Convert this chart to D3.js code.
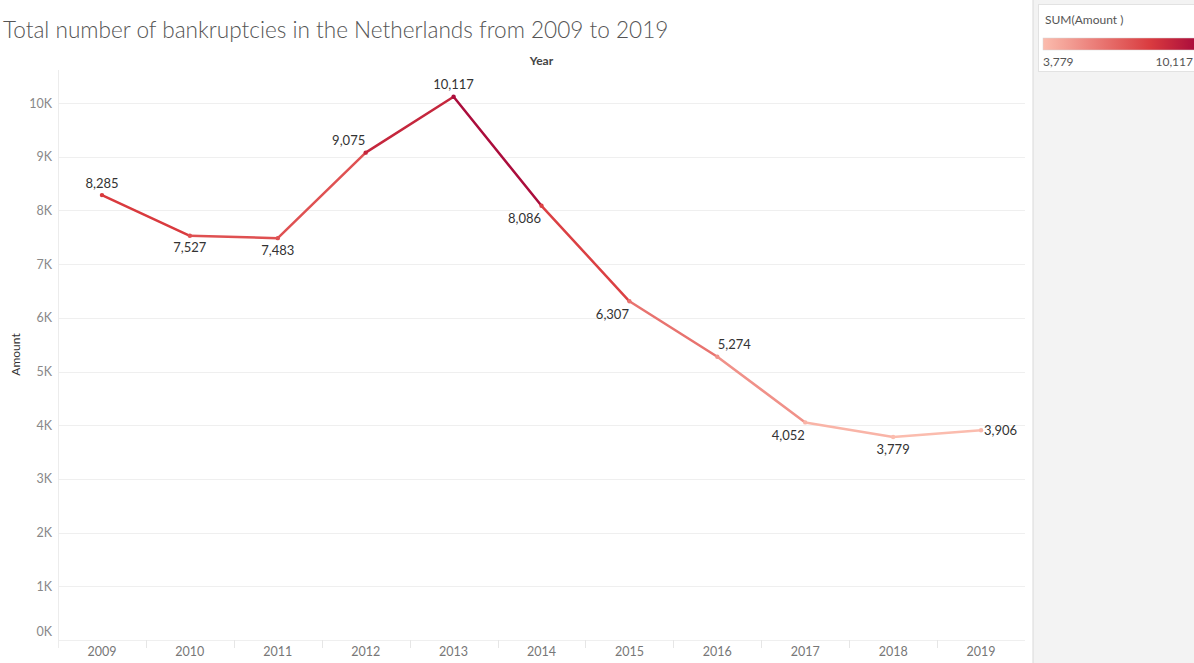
<!DOCTYPE html>
<html>
<head>
<meta charset="utf-8">
<script src="https://cdn.jsdelivr.net/npm/d3@7"></script>
<style>
  html, body { margin: 0; padding: 0; background: #fff; }
  svg { display: block; }
</style>
</head>
<body>
<svg id="chart" width="1194" height="663"></svg>
<script>
// Yearly bankruptcy counts
const years = ["2009","2010","2011","2012","2013","2014","2015","2016","2017","2018","2019"];
const amounts = [8285, 7527, 7483, 9075, 10117, 8086, 6307, 5274, 4052, 3779, 3906];
const yTicks = [0, 1000, 2000, 3000, 4000, 5000, 6000, 7000, 8000, 9000, 10000];
// where each value label sits relative to its point
const labelSide = ["above","below","below","aboveLeft","above","belowLeft","belowLeft","aboveRight","belowLeft","below","right"];

const svg = d3.select("#chart");
const W = 1194, H = 663;
const plot = { left: 58, right: 1025, top: 70, bottom: 640 };
const font = "Lato, 'Open Sans', sans-serif";

const x = d3.scaleBand().domain(years).range([plot.left, plot.right]);
const y = d3.scaleLinear().domain([0, 10000]).range([plot.bottom, plot.bottom - 537]);
const lo = d3.min(amounts), hi = d3.max(amounts);
const color = d3.scaleLinear()
  .domain([lo, 8300, hi])
  .range(["#fbbcae", "#d93a3e", "#ab0d3c"]);

// side panel holding the legend
svg.append("rect").attr("x", 1033).attr("y", 0).attr("width", W - 1033).attr("height", H).attr("fill", "#f3f3f3");
svg.append("line").attr("x1", 1033).attr("x2", 1033).attr("y1", 0).attr("y2", H).attr("stroke", "#d9d9d9");

// title
svg.append("text").attr("x", 3).attr("y", 38)
  .attr("font-family", font).attr("font-weight", 300).attr("font-size", 22.6).attr("fill", "#555")
  .text("Total number of bankruptcies in the Netherlands from 2009 to 2019");

// column header
svg.append("text").attr("x", x("2014") + x.bandwidth() / 2).attr("y", 65)
  .attr("text-anchor", "middle").attr("font-family", font).attr("font-weight", 700)
  .attr("font-size", 12).attr("fill", "#444").text("Year");

// gridlines
svg.append("g").selectAll("line").data(yTicks).join("line")
  .attr("x1", plot.left).attr("x2", plot.right)
  .attr("y1", d => Math.round(y(d)) + 0.5).attr("y2", d => Math.round(y(d)) + 0.5)
  .attr("stroke", "#efefef");

// vertical axis rule
svg.append("line").attr("x1", plot.left + 0.5).attr("x2", plot.left + 0.5)
  .attr("y1", plot.top).attr("y2", plot.bottom + 8).attr("stroke", "#ececec");

// y axis
const yAxis = d3.axisLeft(y).tickValues(yTicks).tickSize(0).tickPadding(6)
  .tickFormat(d => (d / 1000) + "K");
const gy = svg.append("g").attr("transform", `translate(${plot.left},0)`).call(yAxis);
gy.select(".domain").remove();
gy.selectAll("text").attr("font-family", font).attr("font-size", 12.5).attr("fill", "#888");
gy.selectAll(".tick").filter(d => d === 0).select("text").attr("dy", "-0.35em");

svg.append("text")
  .attr("transform", `translate(20,${y(5000) - 17}) rotate(-90)`)
  .attr("text-anchor", "middle").attr("font-family", font).attr("font-size", 12).attr("fill", "#333")
  .text("Amount");

// x axis
const xAxis = d3.axisBottom(x).tickSize(0).tickPadding(7);
const gx = svg.append("g").attr("transform", `translate(0,${plot.bottom})`).call(xAxis);
gx.select(".domain").remove();
gx.selectAll("text").attr("font-family", font).attr("font-size", 12.5).attr("fill", "#777");
svg.append("g").selectAll("line").data(years.slice(1)).join("line")
  .attr("x1", d => Math.round(x(d)) + 0.5).attr("x2", d => Math.round(x(d)) + 0.5)
  .attr("y1", plot.bottom).attr("y2", plot.bottom + 8).attr("stroke", "#e6e6e6");

// line segments, each coloured by its starting value
const pts = years.map((yr, i) => ({ yr, v: amounts[i], cx: x(yr) + x.bandwidth() / 2, cy: y(amounts[i]), side: labelSide[i] }));
svg.append("g").selectAll("line").data(pts.slice(0, -1)).join("line")
  .attr("x1", d => d.cx).attr("y1", d => d.cy)
  .attr("x2", (d, i) => pts[i + 1].cx).attr("y2", (d, i) => pts[i + 1].cy)
  .attr("stroke", d => color(d.v)).attr("stroke-width", 2.5).attr("stroke-linecap", "round");

svg.append("g").selectAll("circle").data(pts).join("circle")
  .attr("cx", d => d.cx).attr("cy", d => d.cy).attr("r", 2.2)
  .attr("fill", d => color(d.v));

// value labels
const fmt = d3.format(",");
const off = {
  above:      { dx: 0,   dy: -12, anchor: "middle" },
  below:      { dx: 0,   dy: 12,  anchor: "middle" },
  aboveLeft:  { dx: -17, dy: -12, anchor: "middle" },
  belowLeft:  { dx: -17, dy: 13,  anchor: "middle" },
  aboveRight: { dx: 17,  dy: -12, anchor: "middle" },
  right:      { dx: 3,   dy: 0,   anchor: "start" }
};
svg.append("g").selectAll("text").data(pts).join("text")
  .attr("x", d => d.cx + off[d.side].dx).attr("y", d => d.cy + off[d.side].dy)
  .attr("dy", "0.35em").attr("text-anchor", d => off[d.side].anchor)
  .attr("font-family", font).attr("font-size", 13).attr("fill", "#333")
  .text(d => fmt(d.v));

// colour legend
const lg = svg.append("g");
lg.append("rect").attr("x", 1038.5).attr("y", 4.5).attr("width", 170).attr("height", 67)
  .attr("fill", "#fff").attr("stroke", "#e2e2e2");
lg.append("text").attr("x", 1045).attr("y", 24).attr("font-family", font).attr("font-size", 12)
  .attr("fill", "#555").text("SUM(Amount )");
const grad = svg.append("defs").append("linearGradient").attr("id", "amtGrad");
d3.range(0, 1.0001, 0.1).forEach(t => {
  grad.append("stop").attr("offset", t).attr("stop-color", color(lo + t * (hi - lo)));
});
lg.append("rect").attr("x", 1043).attr("y", 38).attr("width", 152).attr("height", 12)
  .attr("fill", "url(#amtGrad)").attr("stroke", "#d7d7d7").attr("stroke-width", 0.5);
lg.append("text").attr("x", 1043).attr("y", 66).attr("font-family", font).attr("font-size", 12)
  .attr("fill", "#555").text(fmt(lo));
lg.append("text").attr("x", 1193).attr("y", 66).attr("text-anchor", "end").attr("font-family", font)
  .attr("font-size", 12).attr("fill", "#555").text(fmt(hi));
</script>
</body>
</html>
